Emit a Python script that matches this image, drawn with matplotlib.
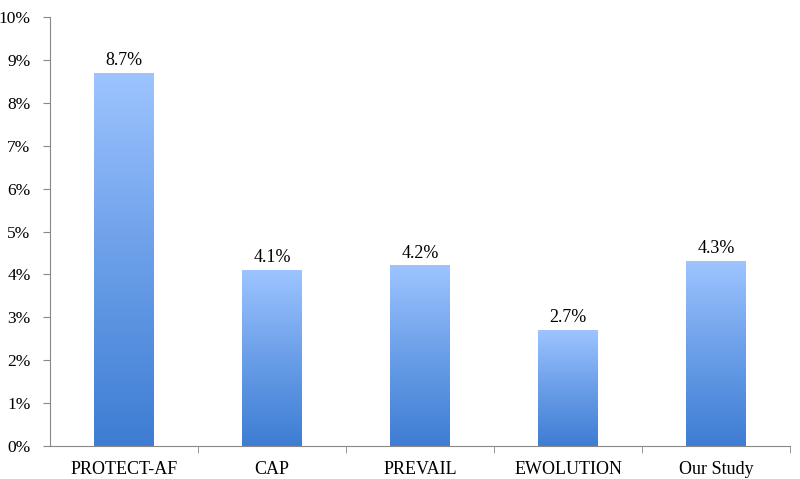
import matplotlib.pyplot as plt
import numpy as np
from matplotlib.colors import LinearSegmentedColormap

# Values (percent)
studies = ["PROTECT-AF", "CAP", "PREVAIL", "EWOLUTION", "Our Study"]
rates = [8.7, 4.1, 4.2, 2.7, 4.3]
value_labels = ["8.7%", "4.1%", "4.2%", "2.7%", "4.3%"]

plt.rcParams['font.family'] = ['Liberation Serif', 'DejaVu Serif']

fig = plt.figure(figsize=(8, 4.79), dpi=100)
ax = fig.add_axes([0.0625, 0.069, 0.925, 0.895])

# gradient: dark blue at bottom, light blue at top
cmap = LinearSegmentedColormap.from_list("bar", ["#3e7dd3", "#6a9ee8", "#9dc4ff"])
grad = np.linspace(0, 1, 256).reshape(-1, 1)
width = 0.4

bars = ax.bar(range(len(studies)), rates, width=width, color="none", edgecolor="none")
for b, lab in zip(bars, value_labels):
    x0 = b.get_x()
    h = b.get_height()
    ax.imshow(grad, cmap=cmap, origin="lower", aspect="auto",
              extent=(x0, x0 + width, 0, h), zorder=2)
    ax.text(x0 + width / 2, h + 0.1, lab, ha="center", va="bottom", fontsize=13)

ax.set_xlim(-0.5, len(studies) - 0.5)
ax.set_ylim(0, 10)
ax.set_yticks(range(0, 11))
ax.set_yticklabels([f"{i}%" for i in range(0, 11)], fontsize=12.5)

# category names centred, tick marks at category boundaries
ax.set_xticks(range(len(studies)))
ax.set_xticklabels(studies, fontsize=13)
ax.tick_params(axis="x", length=0, pad=11)
ax.set_xticks(np.arange(0.5, len(studies), 1), minor=True)
ax.tick_params(axis="x", which="minor", length=5, color="#888888", direction="out")
ax.tick_params(axis="y", length=5, color="#888888", direction="out", pad=9)

for s in ["top", "right"]:
    ax.spines[s].set_visible(False)
for s in ["left", "bottom"]:
    ax.spines[s].set_color("#888888")

plt.savefig("out.png", dpi=100)
